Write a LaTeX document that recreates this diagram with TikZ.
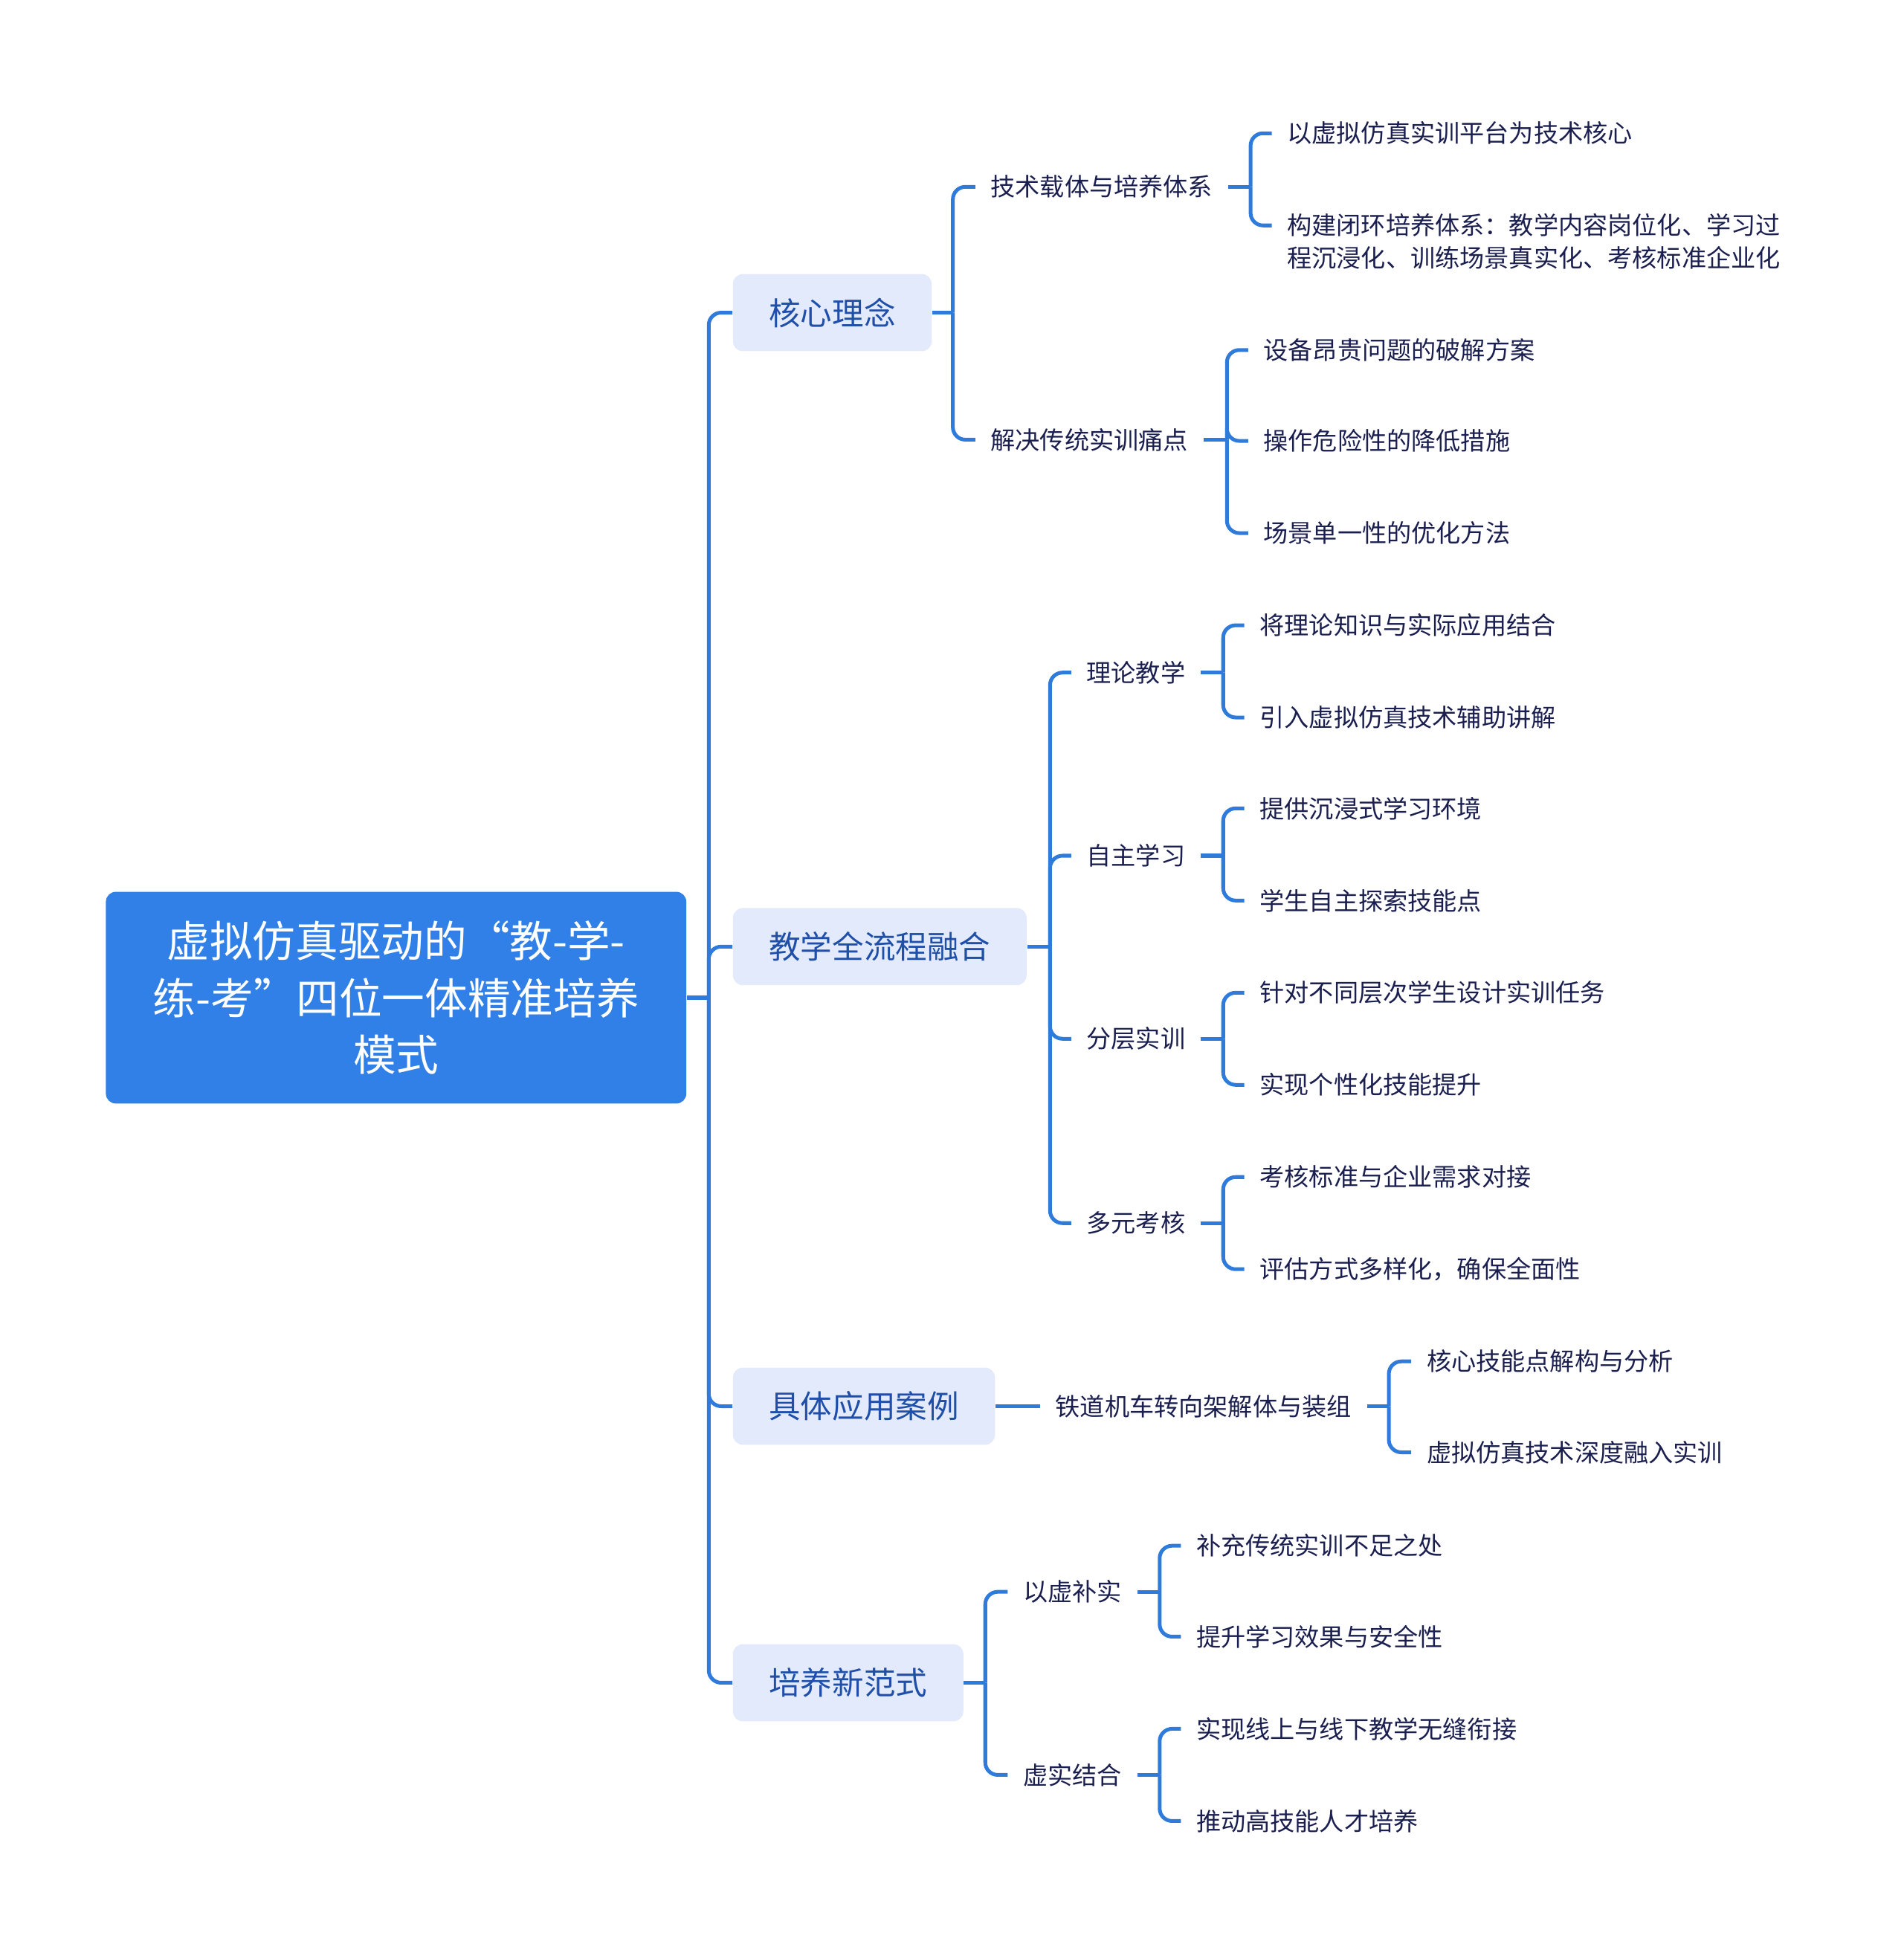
\documentclass[tikz,border=0pt]{standalone}
\usepackage{fontspec}
\setmainfont{Noto Sans CJK SC}
\definecolor{rootblue}{HTML}{3080E8}
\definecolor{topicfill}{HTML}{E2EAFB}
\definecolor{topictext}{HTML}{1F4FA8}
\definecolor{navytext}{HTML}{1B1F4F}
\definecolor{lineblue}{HTML}{2F7BDB}
\begin{document}
\begin{tikzpicture}[x=0.5pt,y=-0.5pt,
	rootbox/.style={fill=rootblue,text=white,rounded corners=4pt,minimum width=233pt,minimum height=85pt,align=center,font=\fontsize{17.2}{22.75}\selectfont},
	topicbox/.style={fill=topicfill,text=topictext,rounded corners=4pt,minimum height=31pt,inner xsep=14.5pt,anchor=west,font=\fontsize{12.7}{15}\selectfont},
	subtext/.style={text=navytext,inner xsep=6pt,anchor=west,font=\fontsize{9.9}{13}\selectfont},
	link/.style={draw=lineblue,line width=1.5pt,rounded corners=5pt}]
	\useasboundingbox (0,0) rectangle (1528,1568);
	\node[rootbox] (root) at (318,801) {虚拟仿真驱动的“教-学-\\练-考”四位一体精准培养\\模式};
	\node[topicbox] (t1) at (588,251) {核心理念};
	\node[topicbox] (t2) at (588,760) {教学全流程融合};
	\node[topicbox] (t3) at (588,1129) {具体应用案例};
	\node[topicbox] (t4) at (588,1351) {培养新范式};
	\node[subtext] (s11) at (783,150) {技术载体与培养体系};
	\node[subtext] (s12) at (783,353) {解决传统实训痛点};
	\node[subtext] (s21) at (860,540) {理论教学};
	\node[subtext] (s22) at (860,687) {自主学习};
	\node[subtext] (s23) at (860,834) {分层实训};
	\node[subtext] (s24) at (860,982) {多元考核};
	\node[subtext] (s31) at (835,1129) {铁道机车转向架解体与装组};
	\node[subtext] (s41) at (809,1278) {以虚补实};
	\node[subtext] (s42) at (809,1425) {虚实结合};
	\node[subtext] (l111) at (1021,107) {以虚拟仿真实训平台为技术核心};
	\node[subtext,align=left] (l112) at (1021,194) {构建闭环培养体系：教学内容岗位化、学习过\\程沉浸化、训练场景真实化、考核标准企业化};
	\node[subtext] (l121) at (1002,281) {设备昂贵问题的破解方案};
	\node[subtext] (l122) at (1002,354) {操作危险性的降低措施};
	\node[subtext] (l123) at (1002,428) {场景单一性的优化方法};
	\node[subtext] (l211) at (999,502) {将理论知识与实际应用结合};
	\node[subtext] (l212) at (999,576) {引入虚拟仿真技术辅助讲解};
	\node[subtext] (l221) at (999,649) {提供沉浸式学习环境};
	\node[subtext] (l222) at (999,723) {学生自主探索技能点};
	\node[subtext] (l231) at (999,797) {针对不同层次学生设计实训任务};
	\node[subtext] (l232) at (999,871) {实现个性化技能提升};
	\node[subtext] (l241) at (999,945) {考核标准与企业需求对接};
	\node[subtext] (l242) at (999,1019) {评估方式多样化，确保全面性};
	\node[subtext] (l311) at (1133,1093) {核心技能点解构与分析};
	\node[subtext] (l312) at (1133,1166) {虚拟仿真技术深度融入实训};
	\node[subtext] (l411) at (948,1241) {补充传统实训不足之处};
	\node[subtext] (l412) at (948,1314) {提升学习效果与安全性};
	\node[subtext] (l421) at (948,1388) {实现线上与线下教学无缝衔接};
	\node[subtext] (l422) at (948,1462) {推动高技能人才培养};
	\coordinate (r0) at (569,801);
	\coordinate (j1) at (765,251);
	\coordinate (j11) at (1004,150);
	\coordinate (j12) at (985,353);
	\coordinate (j2) at (843,760);
	\coordinate (j21) at (982,540);
	\coordinate (j22) at (982,687);
	\coordinate (j23) at (982,834);
	\coordinate (j24) at (982,982);
	\coordinate (j31) at (1115,1129);
	\coordinate (j4) at (791,1351);
	\coordinate (j41) at (931,1278);
	\coordinate (j42) at (931,1425);
	\draw[link] (root.east) -- (r0);
	\draw[link] (r0) |- (t1.west);
	\draw[link] (r0) |- (t2.west);
	\draw[link] (r0) |- (t3.west);
	\draw[link] (r0) |- (t4.west);
	\draw[link] (t1.east) -- (j1);
	\draw[link] (j1) |- (s11.west);
	\draw[link] (j1) |- (s12.west);
	\draw[link] (s11.east) -- (j11);
	\draw[link] (j11) |- (l111.west);
	\draw[link] (j11) |- ([yshift=6.5pt]l112.west);
	\draw[link] (s12.east) -- (j12);
	\draw[link] (j12) |- (l121.west);
	\draw[link] (j12) |- (l122.west);
	\draw[link] (j12) |- (l123.west);
	\draw[link] (t2.east) -- (j2);
	\draw[link] (j2) |- (s21.west);
	\draw[link] (j2) |- (s22.west);
	\draw[link] (j2) |- (s23.west);
	\draw[link] (j2) |- (s24.west);
	\draw[link] (s21.east) -- (j21);
	\draw[link] (j21) |- (l211.west);
	\draw[link] (j21) |- (l212.west);
	\draw[link] (s22.east) -- (j22);
	\draw[link] (j22) |- (l221.west);
	\draw[link] (j22) |- (l222.west);
	\draw[link] (s23.east) -- (j23);
	\draw[link] (j23) |- (l231.west);
	\draw[link] (j23) |- (l232.west);
	\draw[link] (s24.east) -- (j24);
	\draw[link] (j24) |- (l241.west);
	\draw[link] (j24) |- (l242.west);
	\draw[link] (t3.east) -- (s31.west);
	\draw[link] (s31.east) -- (j31);
	\draw[link] (j31) |- (l311.west);
	\draw[link] (j31) |- (l312.west);
	\draw[link] (t4.east) -- (j4);
	\draw[link] (j4) |- (s41.west);
	\draw[link] (j4) |- (s42.west);
	\draw[link] (s41.east) -- (j41);
	\draw[link] (j41) |- (l411.west);
	\draw[link] (j41) |- (l412.west);
	\draw[link] (s42.east) -- (j42);
	\draw[link] (j42) |- (l421.west);
	\draw[link] (j42) |- (l422.west);
\end{tikzpicture}
\end{document}
